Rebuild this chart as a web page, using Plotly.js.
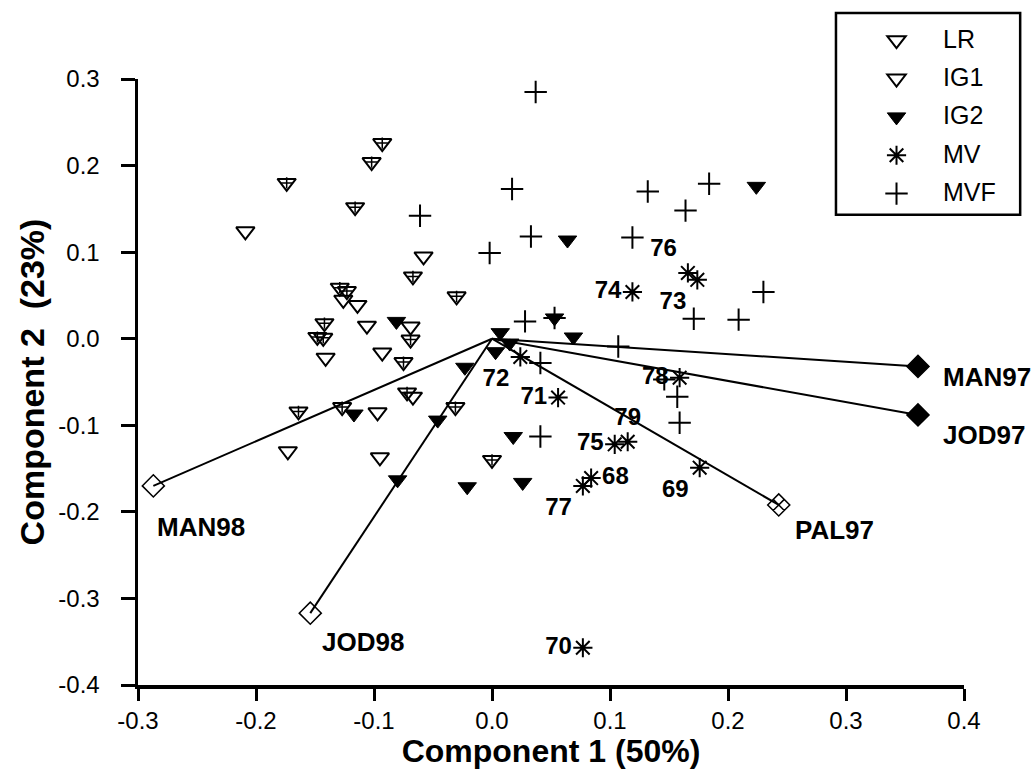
<!DOCTYPE html>
<html>
<head>
<meta charset="utf-8">
<script src="https://cdn.plot.ly/plotly-3.0.1.min.js"></script>
<style>html,body{margin:0;padding:0;background:#fff;}#chart{width:1031px;height:769px;}</style>
</head>
<body>
<div id="chart"></div>
<script>
// ---- data ----
const lrX = [-0.209, -0.058, -0.126, -0.114, -0.141, -0.106, -0.069, -0.093, -0.067, -0.097, -0.173, -0.095];
const lrY = [0.124, 0.095, 0.045, 0.039, -0.022, 0.015, 0.014, -0.016, -0.067, -0.085, -0.130, -0.137];

const ig1X = [-0.093, -0.102, -0.174, -0.116, -0.067, -0.030, -0.129, -0.123, -0.142, -0.148, -0.143, -0.069, -0.075, -0.072, -0.164, -0.127, -0.031, 0.000];
const ig1Y = [0.226, 0.204, 0.180, 0.152, 0.072, 0.049, 0.059, 0.055, 0.018, 0.002, 0.001, -0.001, -0.027, -0.062, -0.084, -0.079, -0.079, -0.140];

const ig2X = [0.224, 0.064, 0.053, 0.069, -0.081, 0.007, 0.015, 0.003, -0.023, -0.117, -0.046, -0.080, -0.021, 0.018, 0.026];
const ig2Y = [0.176, 0.114, 0.024, 0.002, 0.020, 0.007, -0.005, -0.015, -0.033, -0.087, -0.094, -0.163, -0.171, -0.113, -0.166];

const mvLabels = ['68', '69', '70', '71', '72', '73', '74', '75', '76', '77', '78', '79'];
const mvX = [0.084, 0.176, 0.077, 0.056, 0.024, 0.174, 0.119, 0.104, 0.166, 0.077, 0.159, 0.115];
const mvY = [-0.161, -0.149, -0.357, -0.068, -0.021, 0.068, 0.054, -0.122, 0.076, -0.170, -0.045, -0.119];

const mvfX = [0.037, 0.017, 0.132, 0.184, 0.164, 0.033, 0.119, -0.002, -0.061, 0.028, 0.053, 0.230, 0.171, 0.209, 0.107, 0.041, 0.146, 0.157, 0.159, 0.041];
const mvfY = [0.285, 0.173, 0.170, 0.179, 0.148, 0.118, 0.117, 0.099, 0.142, 0.020, 0.024, 0.054, 0.023, 0.022, -0.009, -0.028, -0.047, -0.067, -0.097, -0.113];

const loadNames = ['MAN98', 'JOD98', 'PAL97', 'MAN97', 'JOD97'];
const loadX = [-0.287, -0.154, 0.243, 0.361, 0.361];
const loadY = [-0.170, -0.317, -0.192, -0.032, -0.088];

const tickVals = [-0.4, -0.3, -0.2, -0.1, 0.0, 0.1, 0.2, 0.3, 0.4];
const tickText = ['-0.4', '-0.3', '-0.2', '-0.1', '0.0', '0.1', '0.2', '0.3', '0.4'];

const xTitle = 'Component 1 (50%)';
const yTitle = 'Component 2 \u00a0(23%)';
const seriesNames = ['LR', 'IG1', 'IG2', 'MV', 'MVF'];

// ---- styling (positions of labels relative to their points, in px) ----
const mvLabelPos = ['middle right', 'bottom left', 'middle left', 'middle left', 'bottom left', 'bottom left',
                    'middle left', 'middle left', 'top left', 'bottom left', 'middle left', 'top center'];
const loadSymbols = ['diamond-open', 'diamond-open', 'diamond-x-open', 'diamond', 'diamond'];
const loadLabelShift = [[2, -41], [10, -29], [14, -25], [23, -11], [23, -20]];

const FONT = 'Arial, "Liberation Sans", sans-serif';
const legName = s => '<span style="font-size:25px">' + s + '</span>';
const traces = [];

for (let i = 0; i < loadNames.length; i++) {
  traces.push({
    x: [0, loadX[i]], y: [0, loadY[i]], mode: 'lines', showlegend: false, hoverinfo: 'skip',
    line: {color: '#000', width: 2}
  });
}

traces.push({
  name: legName(seriesNames[0]), x: lrX, y: lrY, mode: 'markers', type: 'scatter',
  marker: {symbol: 'triangle-down-open', size: 16, color: '#000', line: {color: '#000', width: 2}}
});
traces.push({
  name: legName(seriesNames[1]), x: ig1X, y: ig1Y, mode: 'markers', type: 'scatter', legendgroup: 'ig1',
  marker: {symbol: 'triangle-down-open', size: 16, color: '#000', line: {color: '#000', width: 2}}
});
traces.push({
  name: seriesNames[1], x: ig1X, y: ig1Y, mode: 'markers', type: 'scatter', legendgroup: 'ig1', showlegend: false,
  marker: {symbol: 'cross-thin-open', size: 8, color: '#000', line: {color: '#000', width: 1.5}}
});
traces.push({
  name: legName(seriesNames[2]), x: ig2X, y: ig2Y, mode: 'markers', type: 'scatter',
  marker: {symbol: 'triangle-down', size: 16, color: '#000', line: {color: '#000', width: 1}}
});
traces.push({
  name: legName(seriesNames[3]), x: mvX, y: mvY, text: mvLabels, textposition: mvLabelPos, mode: 'markers+text', type: 'scatter',
  cliponaxis: false,
  textfont: {family: FONT, size: 24, color: '#000', weight: 'bold'},
  marker: {symbol: 'asterisk-open', size: 16, color: '#000', line: {color: '#000', width: 2}}
});
traces.push({
  name: legName(seriesNames[4]), x: mvfX, y: mvfY, mode: 'markers', type: 'scatter',
  marker: {symbol: 'cross-thin-open', size: 16, color: '#000', line: {color: '#000', width: 2}}
});
traces.push({
  x: loadX, y: loadY, mode: 'markers', type: 'scatter', showlegend: false, cliponaxis: false,
  marker: {symbol: loadSymbols, size: 17, color: '#000', line: {color: '#000', width: 1.5}}
});

const annotations = loadNames.map((t, i) => ({
  x: loadX[i], y: loadY[i], xref: 'x', yref: 'y', text: t, showarrow: false,
  xanchor: 'left', yanchor: 'middle', xshift: loadLabelShift[i][0], yshift: loadLabelShift[i][1],
  font: {family: FONT, size: 26, color: '#000', weight: 'bold'}
}));

const layout = {
  width: 1031, height: 769,
  margin: {l: 138, r: 67, t: 79, b: 84},
  paper_bgcolor: '#fff', plot_bgcolor: '#fff',
  font: {family: FONT, color: '#000', size: 24},
  showlegend: true,
  legend: {
    x: 0.862, y: 1.0957, xanchor: 'left', yanchor: 'top',
    borderwidth: 0, bgcolor: 'rgba(0,0,0,0)',
    font: {family: FONT, size: 19.5, color: '#000'},
    itemwidth: 83
  },
  annotations: annotations,
  shapes: [{
    type: 'rect', xref: 'paper', yref: 'paper', x0: 0.845, x1: 1.068, y0: 0.776, y1: 1.109,
    line: {color: '#000', width: 2.5}, fillcolor: 'rgba(0,0,0,0)', layer: 'above'
  }],
  xaxis: {
    range: [-0.3, 0.4], tickmode: 'array', tickvals: tickVals, ticktext: tickText,
    showline: true, linecolor: '#000', linewidth: 3.5, mirror: false,
    ticks: 'outside', ticklen: 12, tickwidth: 3, tickcolor: '#000',
    showgrid: false, zeroline: false, ticklabelstandoff: 0,
    tickfont: {family: FONT, size: 24, color: '#000'},
    title: {text: xTitle, font: {family: FONT, size: 32, color: '#000', weight: 'bold'}, standoff: 8}
  },
  yaxis: {
    range: [-0.4, 0.3], tickmode: 'array', tickvals: tickVals, ticktext: tickText,
    showline: true, linecolor: '#000', linewidth: 3.5, mirror: false,
    ticks: 'outside', ticklen: 14, tickwidth: 3, tickcolor: '#000',
    showgrid: false, zeroline: false, ticklabelstandoff: 16,
    tickfont: {family: FONT, size: 24, color: '#000'},
    title: {text: yTitle, font: {family: FONT, size: 34, color: '#000', weight: 'bold'}, standoff: 4}
  }
};

Plotly.newPlot('chart', traces, layout, {displayModeBar: false, staticPlot: true});
</script>
</body>
</html>
